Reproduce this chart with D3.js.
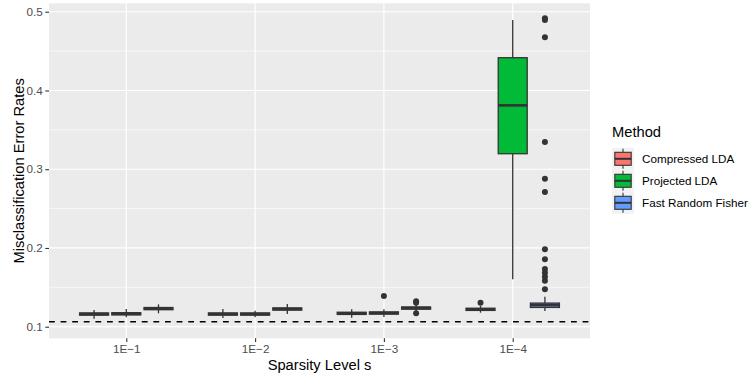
<!DOCTYPE html>
<html>
<head>
<meta charset="utf-8">
<script src="https://cdn.jsdelivr.net/npm/d3@7"></script>
<style>
  body { margin: 0; background: #fff; }
  text { font-family: "Liberation Sans", Arial, sans-serif; }
</style>
</head>
<body>
<div id="chart"></div>
<script>
// sparsity levels (x categories) and methods (fill groups)
const levels = ["1E\u22121", "1E\u22122", "1E\u22123", "1E\u22124"];
const methods = ["Compressed LDA", "Projected LDA", "Fast Random Fisher"];
const colors = ["#F8766D", "#00BA38", "#619CFF"];

// box statistics per method, one entry per level: [lower whisker, q1, median, q3, upper whisker]
const compressedStats = [
    [0.1102, 0.1147, 0.1161, 0.1175, 0.1212],
    [0.1110, 0.1147, 0.1161, 0.1175, 0.1225],
    [0.1114, 0.1156, 0.1170, 0.1184, 0.1221],
    [0.1178, 0.1207, 0.1221, 0.1235, 0.1265]
];
const projectedStats = [
    [0.1119, 0.1150, 0.1164, 0.1178, 0.1225],
    [0.1119, 0.1147, 0.1161, 0.1175, 0.1203],
    [0.1123, 0.1160, 0.1174, 0.1188, 0.1221],
    [0.1602, 0.3197, 0.3811, 0.4416, 0.4895]
];
const fisherStats = [
    [0.1170, 0.1216, 0.1231, 0.1244, 0.1284],
    [0.1161, 0.1211, 0.1225, 0.1239, 0.1288],
    [0.1190, 0.1223, 0.1237, 0.1251, 0.1285],
    [0.1199, 0.1245, 0.1275, 0.1300, 0.1381]
];

// outliers per method, one list per level
const compressedOutliers = [[], [], [], [0.1305]];
const projectedOutliers = [[], [], [0.1390], []];
const fisherOutliers = [
    [],
    [],
    [0.1325, 0.1305, 0.1170],
    [0.4916, 0.4895, 0.4675, 0.3345, 0.2879, 0.2710, 0.1983, 0.1856, 0.1733, 0.1686, 0.1635, 0.1584, 0.1475]
];

const yTicks = [0.1, 0.2, 0.3, 0.4, 0.5];
const yMinorTicks = [0.15, 0.25, 0.35, 0.45];
const baseline = 0.1063;

const options = {
    width: 750,
    height: 375,
    panel: { left: 49, right: 590, top: 3.3, bottom: 338.3 }
};

const stats = [compressedStats, projectedStats, fisherStats];
const outliers = [compressedOutliers, projectedOutliers, fisherOutliers];

const boxes = [];
methods.forEach((m, j) => {
    levels.forEach((lv, i) => {
        const s = stats[j][i];
        boxes.push({
            method: m, level: lv, color: colors[j],
            lo: s[0], q1: s[1], med: s[2], q3: s[3], hi: s[4],
            out: outliers[j][i]
        });
    });
});

const svg = d3.select('#chart').append('svg')
    .attr('width', options.width)
    .attr('height', options.height);

const p = options.panel;

const x = d3.scalePoint()
    .domain(levels)
    .range([p.left, p.right])
    .padding(0.6);

const dodge = d3.scaleBand()
    .domain(methods)
    .range([-0.375 * x.step(), 0.375 * x.step()])
    .paddingInner(0.1)
    .paddingOuter(0.05);

const y = d3.scaleLinear()
    .domain([0.0853, 0.5107])
    .range([p.bottom, p.top]);

// panel background and grid
svg.append('rect')
    .attr('x', p.left).attr('y', p.top)
    .attr('width', p.right - p.left).attr('height', p.bottom - p.top)
    .attr('fill', '#EBEBEB');

svg.append('g').selectAll('line')
    .data(yMinorTicks)
    .join('line')
    .attr('x1', p.left).attr('x2', p.right)
    .attr('y1', d => y(d)).attr('y2', d => y(d))
    .attr('stroke', '#fff').attr('stroke-width', 0.6);

svg.append('g').selectAll('line')
    .data(yTicks)
    .join('line')
    .attr('x1', p.left).attr('x2', p.right)
    .attr('y1', d => y(d)).attr('y2', d => y(d))
    .attr('stroke', '#fff').attr('stroke-width', 1.2);

svg.append('g').selectAll('line')
    .data(levels)
    .join('line')
    .attr('x1', d => x(d)).attr('x2', d => x(d))
    .attr('y1', p.top).attr('y2', p.bottom)
    .attr('stroke', '#fff').attr('stroke-width', 1.2);

// boxplots
const g = svg.append('g').attr('id', 'boxes');

const bw = dodge.bandwidth();
const cx = d => x(d.level) + dodge(d.method) + bw / 2;

const box = g.selectAll('.box')
    .data(boxes)
    .join('g')
    .attr('class', 'box');

box.append('line')
    .attr('x1', cx).attr('x2', cx)
    .attr('y1', d => y(d.hi)).attr('y2', d => y(d.q3))
    .attr('stroke', '#333333').attr('stroke-width', 1.3);

box.append('line')
    .attr('x1', cx).attr('x2', cx)
    .attr('y1', d => y(d.q1)).attr('y2', d => y(d.lo))
    .attr('stroke', '#333333').attr('stroke-width', 1.3);

box.append('rect')
    .attr('x', d => cx(d) - bw / 2)
    .attr('width', bw)
    .attr('y', d => y(d.q3))
    .attr('height', d => y(d.q1) - y(d.q3))
    .attr('fill', d => d.color)
    .attr('stroke', '#333333').attr('stroke-width', 1.3);

box.append('line')
    .attr('x1', d => cx(d) - bw / 2).attr('x2', d => cx(d) + bw / 2)
    .attr('y1', d => y(d.med)).attr('y2', d => y(d.med))
    .attr('stroke', '#333333').attr('stroke-width', 2.6);

box.selectAll('circle')
    .data(d => d.out.map(v => ({ v, cx: cx(d) })))
    .join('circle')
    .attr('cx', d => d.cx)
    .attr('cy', d => y(d.v))
    .attr('r', 3)
    .attr('fill', '#333333');

// dashed reference line
svg.append('line')
    .attr('x1', p.left).attr('x2', p.right)
    .attr('y1', y(baseline)).attr('y2', y(baseline))
    .attr('stroke', '#000').attr('stroke-width', 1.4)
    .attr('stroke-dasharray', '5.8,5.8');

// axes
const yAxis = svg.append('g')
    .attr('transform', `translate(${p.left},0)`)
    .call(d3.axisLeft(y).tickValues(yTicks).tickSize(3.7).tickPadding(2.5).tickFormat(d3.format('.1f')));
yAxis.select('.domain').remove();
yAxis.selectAll('line').attr('stroke', '#333333').attr('stroke-width', 1.1);
yAxis.selectAll('text').attr('fill', '#4D4D4D').style('font-size', '11.7px')
    .style('font-family', '"Liberation Sans", Arial, sans-serif');

const xAxis = svg.append('g')
    .attr('transform', `translate(0,${p.bottom})`)
    .call(d3.axisBottom(x).tickSize(3.7).tickPadding(3));
xAxis.select('.domain').remove();
xAxis.selectAll('line').attr('stroke', '#333333').attr('stroke-width', 1.1);
xAxis.selectAll('text').attr('fill', '#4D4D4D').style('font-size', '11.7px')
    .style('font-family', '"Liberation Sans", Arial, sans-serif');

svg.append('text')
    .attr('x', (p.left + p.right) / 2)
    .attr('y', 370)
    .attr('text-anchor', 'middle')
    .style('font-size', '14.7px')
    .text('Sparsity Level s');

svg.append('text')
    .attr('transform', `translate(24,${(p.top + p.bottom) / 2}) rotate(-90)`)
    .attr('text-anchor', 'middle')
    .style('font-size', '14.7px')
    .text('Misclassification Error Rates');

// legend
const legend = svg.append('g').attr('transform', 'translate(612,0)');

legend.append('text')
    .attr('x', 0).attr('y', 136.5)
    .style('font-size', '14.7px')
    .text('Method');

const keys = legend.selectAll('.key')
    .data(methods)
    .join('g')
    .attr('class', 'key')
    .attr('transform', (d, i) => `translate(0,${158.8 + i * 22})`);

keys.append('rect')
    .attr('x', 0).attr('y', -11).attr('width', 22).attr('height', 22)
    .attr('fill', '#F2F2F2');

keys.append('line')
    .attr('x1', 11).attr('x2', 11).attr('y1', -10).attr('y2', 10)
    .attr('stroke', '#333333').attr('stroke-width', 1.1);

keys.append('rect')
    .attr('x', 2.8).attr('y', -6.5).attr('width', 16.4).attr('height', 13)
    .attr('fill', (d, i) => colors[i])
    .attr('stroke', '#333333').attr('stroke-width', 1.1);

keys.append('line')
    .attr('x1', 2.8).attr('x2', 19.2).attr('y1', 0).attr('y2', 0)
    .attr('stroke', '#333333').attr('stroke-width', 2);

keys.append('text')
    .attr('x', 30).attr('y', 4.3)
    .style('font-size', '11.7px')
    .text(d => d);
</script>
</body>
</html>
